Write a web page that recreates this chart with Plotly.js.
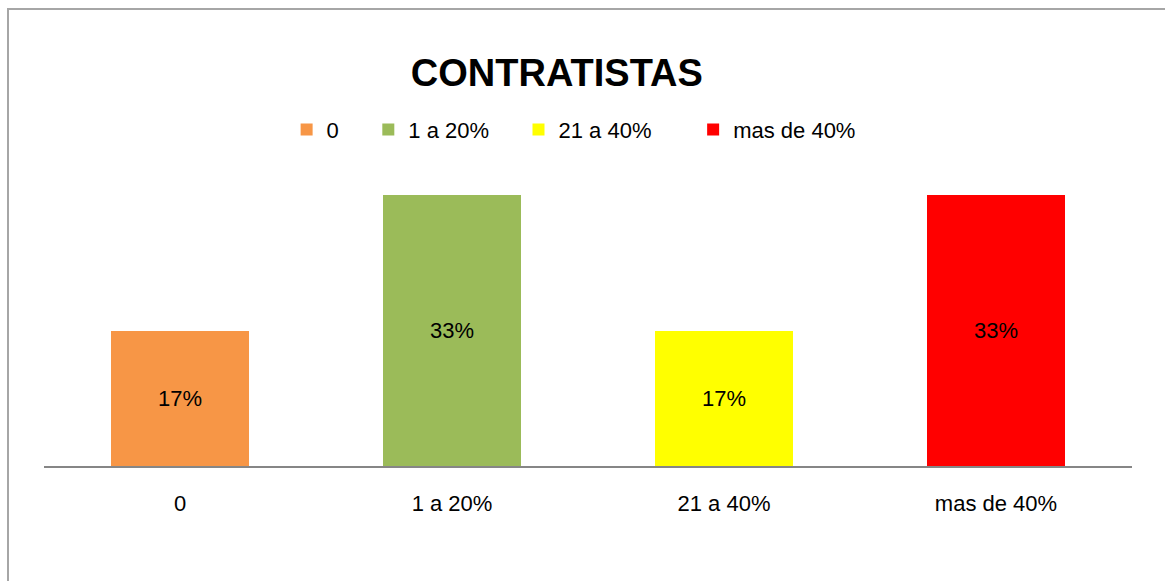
<!DOCTYPE html>
<html>
<head>
<meta charset="utf-8">
<script src="https://cdn.plot.ly/plotly-3.0.1.min.js"></script>
<style>
  html, body { margin: 0; padding: 0; background: #fff; }
  #chart { width: 1165px; height: 581px; }
  #frame { position: absolute; left: 7px; top: 8px; width: 1170px; height: 580px;
           border-left: 2px solid #a6a6a6; border-top: 2px solid #a6a6a6; pointer-events: none; }
</style>
</head>
<body>
<div id="chart"></div>
<div id="frame"></div>
<script>
const categories = ["0", "1 a 20%", "21 a 40%", "mas de 40%"];
const values = [16.67, 33.33, 16.67, 33.33];
const labels = ["17%", "33%", "17%", "33%"];
const colors = ["#F79646", "#9BBB59", "#FFFF00", "#FF0000"];
// trailing non-breaking spaces widen the legend entries like the original
const legendPad = ["\u00a0\u00a0\u00a0\u00a0", "\u00a0\u00a0\u00a0\u00a0", "\u00a0\u00a0\u00a0\u00a0\u00a0\u00a0", ""];

const FONT = "Liberation Sans, Arial, sans-serif";

const traces = categories.map((c, i) => ({
  type: "bar",
  name: c + legendPad[i],
  x: [c],
  y: [values[i]],
  text: [labels[i]],
  textposition: "inside",
  insidetextanchor: "middle",
  textangle: 0,
  textfont: { family: FONT, size: 22, color: "#000" },
  marker: { color: colors[i] },
  hoverinfo: "skip"
}));

const layout = {
  width: 1165,
  height: 581,
  margin: { l: 44, r: 33, t: 141, b: 115 },
  paper_bgcolor: "#fff",
  plot_bgcolor: "#fff",
  barmode: "stack",
  bargap: 0.49,
  font: { family: FONT, color: "#000" },
  title: {
    text: "<b>CONTRATISTAS</b>",
    font: { family: FONT, size: 38, color: "#000" },
    x: 0.478, xanchor: "center",
    y: 0.875, yanchor: "middle", yref: "container"
  },
  showlegend: true,
  legend: {
    orientation: "h",
    x: 0.223, xanchor: "left",
    y: 1.035, yanchor: "middle",
    font: { family: FONT, size: 22, color: "#000" },
    itemwidth: 30,
    traceorder: "normal"
  },
  xaxis: {
    type: "category",
    categoryorder: "array",
    categoryarray: categories,
    showline: true,
    linecolor: "#868686",
    linewidth: 2,
    showgrid: false,
    ticks: "",
    tickfont: { family: FONT, size: 22, color: "#000" },
    ticklabelstandoff: 17,
    fixedrange: true
  },
  yaxis: {
    range: [0, 40],
    visible: false,
    showgrid: false,
    zeroline: false,
    fixedrange: true
  }
};

Plotly.newPlot("chart", traces, layout, { displayModeBar: false, staticPlot: true });
</script>
</body>
</html>
